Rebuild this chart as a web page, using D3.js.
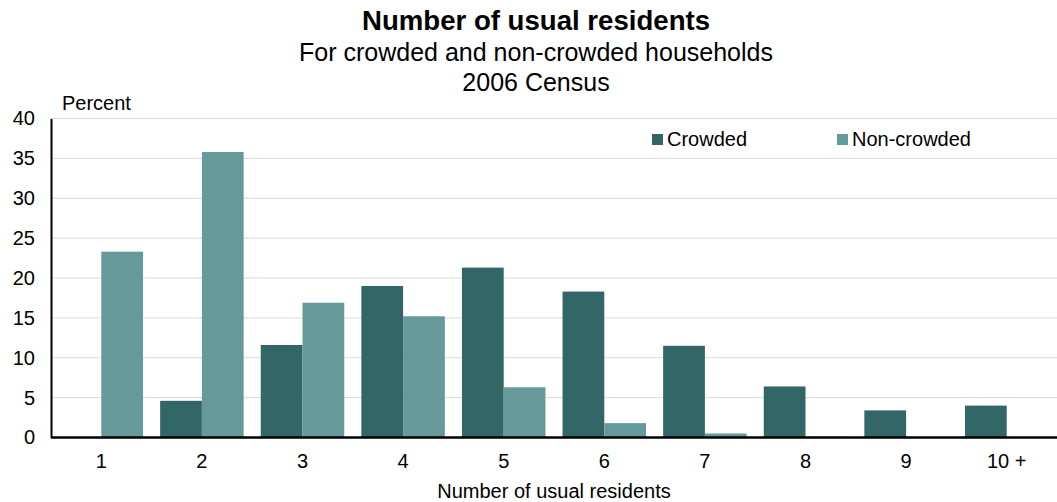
<!DOCTYPE html>
<html>
<head>
<meta charset="utf-8">
<script src="https://cdn.jsdelivr.net/npm/d3@7"></script>
<style>
  body { margin: 0; background: #fff; }
  text { font-family: "Liberation Sans", Arial, sans-serif; fill: #000; }
</style>
</head>
<body>
<div id="chart"></div>
<script>
// Chart data
const categories = ["1", "2", "3", "4", "5", "6", "7", "8", "9", "10 +"];
const crowded = [0, 4.6, 11.6, 19.0, 21.3, 18.3, 11.5, 6.4, 3.4, 4.0];
const nonCrowded = [23.3, 35.8, 16.9, 15.2, 6.3, 1.8, 0.5, 0.1, 0, 0];
const seriesNames = ["Crowded", "Non-crowded"];
const yTicks = [0, 5, 10, 15, 20, 25, 30, 35, 40];

const width = 1057;
const height = 502;
const margin = { top: 118.5, right: 0, bottom: 64.5, left: 51 };
const colors = ["#336666", "#669999"];
const labelSize = "20px";

const svg = d3.select("#chart").append("svg")
  .attr("width", width)
  .attr("height", height);

const x = d3.scaleBand()
  .domain(categories)
  .range([margin.left, width - margin.right])
  .paddingInner(0.17)
  .paddingOuter(0.085);

const x1 = d3.scaleBand()
  .domain(seriesNames)
  .range([0, x.bandwidth()]);

const y = d3.scaleLinear()
  .domain([0, 40])
  .range([height - margin.bottom, margin.top]);

// gridlines
svg.append("g")
  .selectAll("line")
  .data(yTicks.filter(d => d > 0))
  .join("line")
  .attr("x1", margin.left)
  .attr("x2", width)
  .attr("y1", d => y(d))
  .attr("y2", d => y(d))
  .attr("stroke", "#d9d9d9")
  .attr("stroke-width", 1);

// bars
const rows = categories.map((c, i) => ({ cat: c, values: [crowded[i], nonCrowded[i]] }));

svg.append("g")
  .selectAll("g")
  .data(rows)
  .join("g")
  .attr("transform", d => `translate(${x(d.cat)},0)`)
  .selectAll("rect")
  .data(d => d.values.map((v, j) => ({ name: seriesNames[j], value: v, j: j })))
  .join("rect")
  .attr("x", d => x1(d.name))
  .attr("width", x1.bandwidth())
  .attr("y", d => y(d.value))
  .attr("height", d => y(0) - y(d.value))
  .attr("fill", d => colors[d.j]);

// y axis
const yAxis = svg.append("g")
  .attr("transform", `translate(${margin.left},0)`)
  .call(d3.axisLeft(y).tickValues(yTicks).tickSize(0).tickPadding(16));
yAxis.select(".domain").attr("stroke", "#000").attr("stroke-width", 2);
yAxis.selectAll("text")
  .style("font-size", labelSize)
  .style("font-family", "Liberation Sans, Arial, sans-serif");

// x axis
const xAxis = svg.append("g")
  .attr("transform", `translate(0,${y(0)})`)
  .call(d3.axisBottom(x).tickSize(0).tickPadding(16));
xAxis.select(".domain").attr("d", `M${margin.left},0H${width}`).attr("stroke", "#000").attr("stroke-width", 2.5);
xAxis.selectAll("text")
  .style("font-size", labelSize)
  .style("font-family", "Liberation Sans, Arial, sans-serif");

// titles
svg.append("text")
  .attr("x", 536).attr("y", 30)
  .attr("text-anchor", "middle")
  .style("font-size", "27.6px").style("font-weight", "bold")
  .text("Number of usual residents");
svg.append("text")
  .attr("x", 536).attr("y", 61)
  .attr("text-anchor", "middle")
  .style("font-size", "25px")
  .text("For crowded and non-crowded households");
svg.append("text")
  .attr("x", 536).attr("y", 91)
  .attr("text-anchor", "middle")
  .style("font-size", "25px")
  .text("2006 Census");

svg.append("text")
  .attr("x", 62).attr("y", 110)
  .style("font-size", labelSize)
  .text("Percent");

svg.append("text")
  .attr("x", 554).attr("y", 498)
  .attr("text-anchor", "middle")
  .style("font-size", labelSize)
  .text("Number of usual residents");

// legend
const legendX = [652, 837];
const legend = svg.append("g")
  .selectAll("g")
  .data(seriesNames)
  .join("g")
  .attr("transform", (d, i) => `translate(${legendX[i]},134)`);
legend.append("rect")
  .attr("width", 11).attr("height", 11)
  .attr("fill", (d, i) => colors[i]);
legend.append("text")
  .attr("x", 15).attr("y", 12)
  .style("font-size", labelSize)
  .text(d => d);
</script>
</body>
</html>
